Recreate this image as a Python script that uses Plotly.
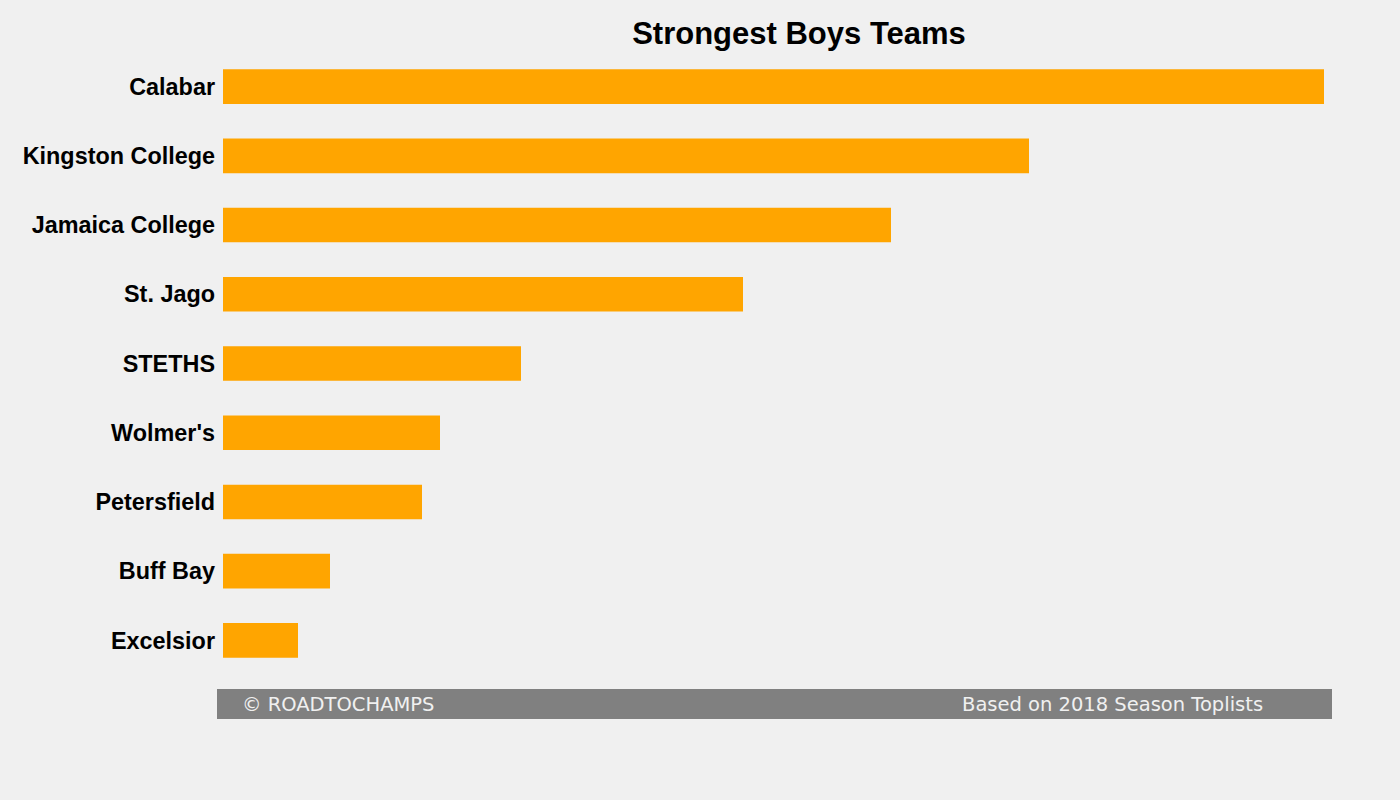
import plotly.graph_objects as go

teams = ["Calabar", "Kingston College", "Jamaica College", "St. Jago", "STETHS",
         "Wolmer's", "Petersfield", "Buff Bay", "Excelsior"]
strength = [220.2, 161.2, 133.6, 104.0, 59.6, 43.4, 39.8, 21.4, 15.0]

title_text = "Strongest Boys Teams"
footer_left = "© ROADTOCHAMPS"
footer_right = "Based on 2018 Season Toplists"

BG = "#f0f0f0"
W, H = 1400, 800
ml, mr, mt, mb = 223, 76, 52, 125
pw = W - ml - mr
ph = H - mt - mb


def px_x(px):
    return (px - ml) / pw


def px_y(py):
    return (H - mb - py) / ph


fig = go.Figure(go.Bar(
    x=strength, y=teams, orientation="h",
    marker=dict(color="#FFA500", line=dict(width=0)),
    width=0.5, hoverinfo="x+y",
))

fig.update_layout(
    width=W, height=H,
    paper_bgcolor=BG, plot_bgcolor=BG,
    margin=dict(l=ml, r=mr, t=mt, b=mb, pad=0),
    showlegend=False,
    title=dict(text=title_text, x=799 / W, xanchor="center", xref="container",
               y=1 - 33 / H, yanchor="middle",
               font=dict(family="Liberation Sans, Arial, sans-serif", size=31, color="black", weight="bold")),
    xaxis=dict(visible=False, range=[0, max(strength)], showgrid=False, zeroline=False, fixedrange=True),
    yaxis=dict(range=[len(teams) - 0.5, -0.5], showgrid=False, zeroline=False, showline=False,
               ticks="", ticklabelstandoff=7,
               tickfont=dict(family="Liberation Sans, Arial, sans-serif", size=23.4, color="black", weight="bold")),
    shapes=[dict(type="rect", xref="paper", yref="paper",
                 x0=px_x(217), x1=px_x(1332), y0=px_y(719), y1=px_y(689),
                 fillcolor="#808080", line=dict(width=0), layer="above")],
    annotations=[
        dict(text=footer_left, xref="paper", yref="paper", x=px_x(240), y=px_y(704),
             xanchor="left", yanchor="middle", showarrow=False,
             font=dict(family="DejaVu Sans, sans-serif", size=19.5, color="#f0f0f0")),
        dict(text=footer_right, xref="paper", yref="paper", x=px_x(1265), y=px_y(704),
             xanchor="right", yanchor="middle", showarrow=False,
             font=dict(family="DejaVu Sans, sans-serif", size=19.5, color="#f0f0f0")),
    ],
)

fig.write_html("out.html", config={"displayModeBar": False},
               post_script="document.body.style.margin='0';document.body.style.background='#f0f0f0';")
